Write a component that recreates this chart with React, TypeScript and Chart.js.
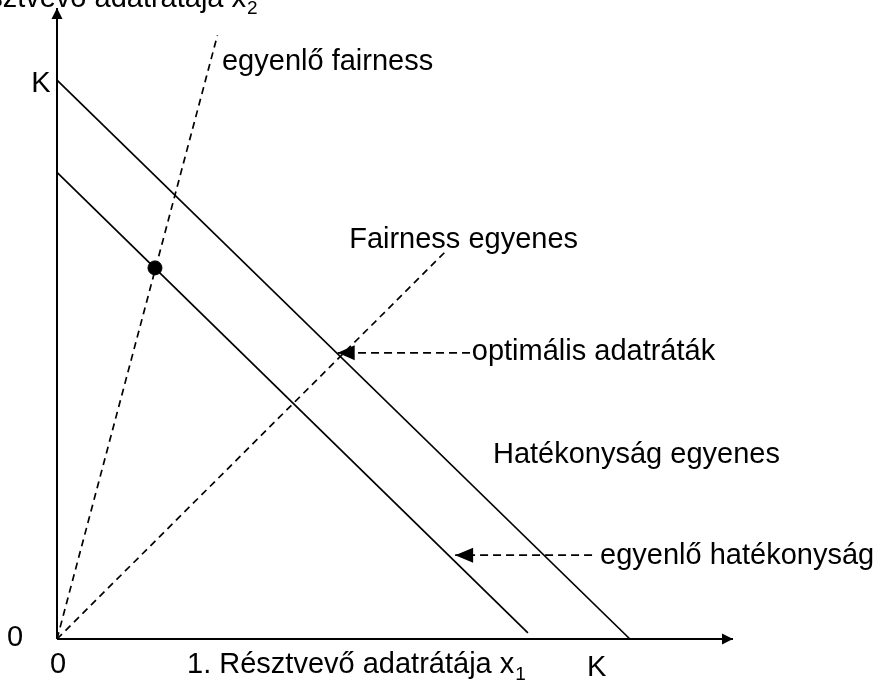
import React, { useEffect, useRef } from 'react';
import { Chart, registerables } from 'chart.js';

Chart.register(...registerables);

// ---- data (in units where K = 10) ----
const xAxisLine = [{ x: 0, y: 0 }, { x: 11.8, y: 0 }];
const yAxisLine = [{ x: 0, y: 0 }, { x: 0, y: 11.29 }];
const efficiencyLine = [{ x: 0, y: 10 }, { x: 10, y: 0 }]; // Hatékonyság egyenes
const equalEfficiencyLine = [{ x: 0, y: 8.35 }, { x: 8.22, y: 0.11 }]; // egyenlő hatékonyság
const equalFairnessLine = [{ x: 0, y: 0 }, { x: 2.8, y: 10.8 }]; // egyenlő fairness
const fairnessLine = [{ x: 0, y: 0 }, { x: 6.77, y: 6.92 }]; // Fairness egyenes
const equalPoint = [{ x: 1.71, y: 6.64 }];
const optimalArrow = [{ x: 7.21, y: 5.12 }, { x: 4.9, y: 5.12 }];
const equalEffArrow = [{ x: 9.34, y: 1.5 }, { x: 6.95, y: 1.5 }];

const X_MAX = 11.8;
const Y_MAX = 11.29;

// ---- label layout (separate from data) ----
type Lbl = { text: string; x: number; y: number; align: CanvasTextAlign; sub?: string };
const LABELS: Lbl[] = [
  { text: 'egyenlő fairness', x: 2.88, y: 10.18, align: 'left' },
  { text: 'K', x: -0.28, y: 9.79, align: 'center' },
  { text: 'Fairness egyenes', x: 5.1, y: 6.99, align: 'left' },
  { text: 'optimális adatráták', x: 7.24, y: 4.99, align: 'left' },
  { text: 'Hatékonyság egyenes', x: 7.61, y: 3.15, align: 'left' },
  { text: 'egyenlő hatékonyság', x: 9.48, y: 1.34, align: 'left' },
  { text: '0', x: -0.73, y: -0.125, align: 'center' },
  { text: '0', x: 0.02, y: -0.61, align: 'center' },
  { text: 'K', x: 9.42, y: -0.66, align: 'center' },
  { text: '1. Résztvevő adatrátája x', x: 2.27, y: -0.61, align: 'left', sub: '1' },
  { text: '2. Résztvevő adatrátája x', x: 3.3, y: 11.31, align: 'right', sub: '2' },
];

type Head = { x: number; y: number; dir: 'left' | 'right' | 'up'; len: number; half: number };
const HEADS: Head[] = [
  { x: X_MAX, y: 0, dir: 'right', len: 11, half: 5.5 },
  { x: 0, y: Y_MAX, dir: 'up', len: 11, half: 5.5 },
  { x: optimalArrow[1].x, y: optimalArrow[1].y, dir: 'left', len: 17, half: 7.5 },
  { x: equalEffArrow[1].x, y: equalEffArrow[1].y, dir: 'left', len: 18, half: 7.5 },
];

const FONT_MAIN = '29px "Liberation Sans", Arial, sans-serif';
const FONT_SUB = '19px "Liberation Sans", Arial, sans-serif';

const annotations = {
  id: 'annotations',
  afterDatasetsDraw(chart: any) {
    const { ctx, scales } = chart;
    const sx = scales.x;
    const sy = scales.y;
    ctx.save();
    ctx.fillStyle = '#000';
    HEADS.forEach((h) => {
      const px = sx.getPixelForValue(h.x);
      const py = sy.getPixelForValue(h.y);
      ctx.beginPath();
      if (h.dir === 'right') {
        ctx.moveTo(px, py);
        ctx.lineTo(px - h.len, py - h.half);
        ctx.lineTo(px - h.len, py + h.half);
      } else if (h.dir === 'left') {
        ctx.moveTo(px, py);
        ctx.lineTo(px + h.len, py - h.half);
        ctx.lineTo(px + h.len, py + h.half);
      } else {
        ctx.moveTo(px, py);
        ctx.lineTo(px - h.half, py + h.len);
        ctx.lineTo(px + h.half, py + h.len);
      }
      ctx.closePath();
      ctx.fill();
    });
    ctx.textBaseline = 'alphabetic';
    LABELS.forEach((l) => {
      const px = sx.getPixelForValue(l.x);
      const py = sy.getPixelForValue(l.y);
      ctx.font = FONT_MAIN;
      const w = ctx.measureText(l.text).width;
      let left = px;
      if (l.align === 'center') left = px - w / 2;
      else if (l.align === 'right') left = px - w;
      ctx.textAlign = 'left';
      ctx.fillText(l.text, left, py);
      if (l.sub) {
        ctx.font = FONT_SUB;
        ctx.fillText(l.sub, left + w + 1, py + 7);
      }
    });
    ctx.restore();
  },
};

function lineDs(data: any[], width: number, dash: number[] = []) {
  return {
    data,
    showLine: true,
    borderColor: '#000',
    backgroundColor: '#000',
    borderWidth: width,
    borderDash: dash,
    pointRadius: 0,
    pointHoverRadius: 0,
    fill: false,
    clip: false as any,
  };
}

export default function App() {
  const ref = useRef<HTMLCanvasElement>(null);
  useEffect(() => {
    if (!ref.current) return;
    const chart = new Chart(ref.current, {
      type: 'scatter',
      data: {
        datasets: [
          lineDs(xAxisLine, 2),
          lineDs(yAxisLine, 2),
          lineDs(efficiencyLine, 1.7),
          lineDs(equalEfficiencyLine, 1.7),
          lineDs(equalFairnessLine, 1.7, [7, 5]),
          lineDs(fairnessLine, 1.7, [7, 5]),
          lineDs(optimalArrow, 1.7, [8, 5]),
          lineDs(equalEffArrow, 1.7, [8, 5]),
          {
            data: equalPoint,
            showLine: false,
            pointRadius: 7,
            pointHoverRadius: 7,
            pointBackgroundColor: '#000',
            pointBorderColor: '#000',
            clip: false as any,
          } as any,
        ],
      },
      options: {
        responsive: false,
        animation: false,
        devicePixelRatio: 1,
        events: [],
        layout: { padding: { left: 57, right: 882 - 733, top: 8, bottom: 684 - 639 } },
        plugins: { legend: { display: false }, tooltip: { enabled: false } },
        scales: {
          x: { type: 'linear', min: 0, max: X_MAX, display: false },
          y: { type: 'linear', min: 0, max: Y_MAX, display: false },
        },
      },
      plugins: [annotations],
    });
    return () => chart.destroy();
  }, []);
  return (
    <div style={{ position: 'fixed', left: 0, top: 0, width: 882, height: 684, background: '#fff' }}>
      <canvas ref={ref} width={882} height={684} />
    </div>
  );
}
